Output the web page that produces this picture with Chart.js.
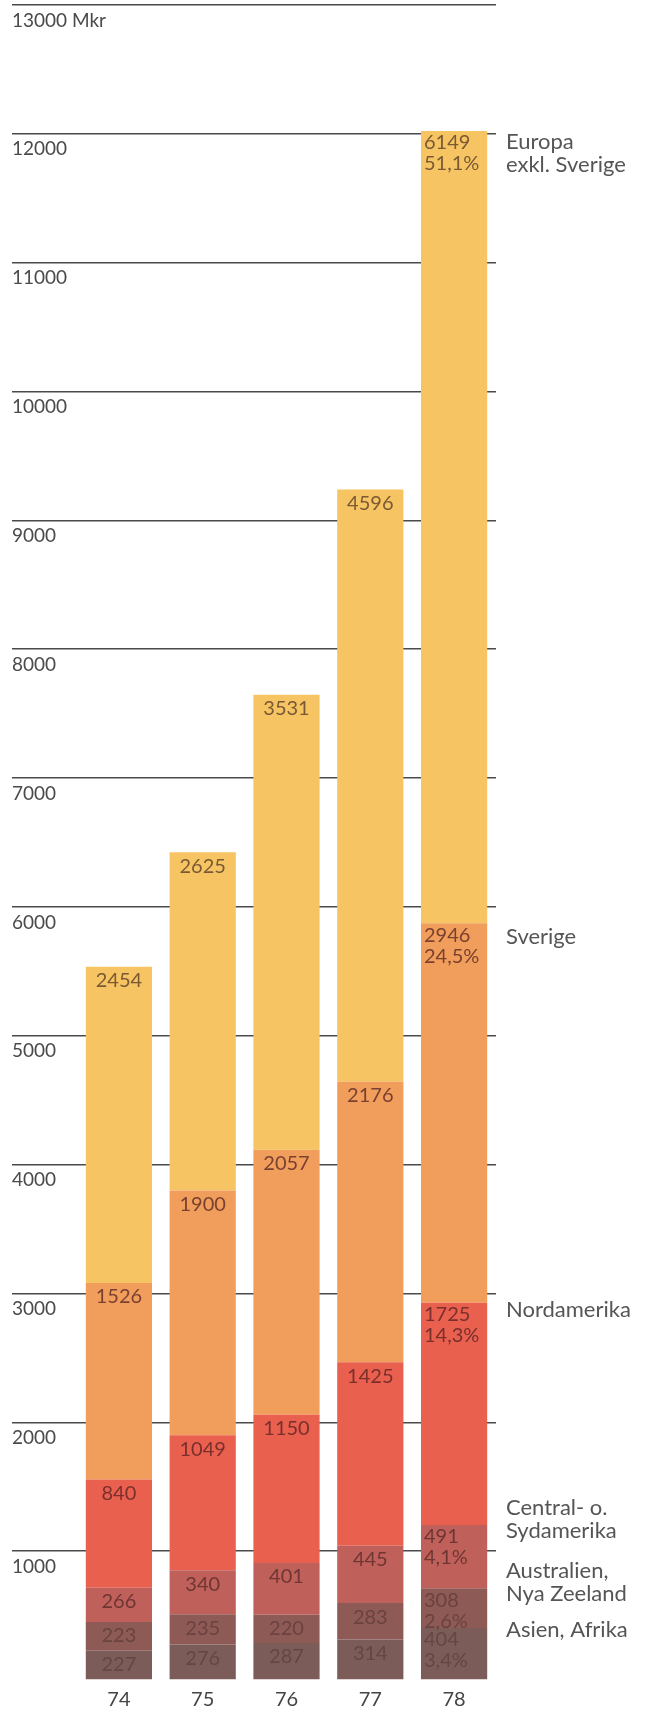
<!DOCTYPE html>
<html lang="sv">
<head>
<meta charset="utf-8">
<title>Fakturering per marknad 1974–1978</title>
<script src="https://cdn.jsdelivr.net/npm/chart.js@4.4.1/dist/chart.umd.min.js"></script>
<style>
  html, body { margin: 0; padding: 0; background: #fff; }
  #wrap { width: 654px; height: 1714px; position: relative; }
</style>
</head>
<body>
<div id="wrap"><canvas id="graf"></canvas></div>
<script>
// Värden i Mkr, staplade nedifrån och upp
const ar = ['74', '75', '76', '77', '78'];
const asienAfrika = [227, 276, 287, 314, 404];
const australien  = [223, 235, 220, 283, 308];
const sydamerika  = [266, 340, 401, 445, 491];
const nordamerika = [840, 1049, 1150, 1425, 1725];
const sverige     = [1526, 1900, 2057, 2176, 2946];
const europa      = [2454, 2625, 3531, 4596, 6149];
const regioner = [
  ['Asien, Afrika'],
  ['Australien,', 'Nya Zeeland'],
  ['Central- o.', 'Sydamerika'],
  ['Nordamerika'],
  ['Sverige'],
  ['Europa', 'exkl. Sverige']
];
const yMax = 13000;
const ySteg = 1000;
const enhet = 'Mkr';

// utseende
const stapelFarger = ['#7c5c59', '#8e5a55', '#c0605a', '#e9604f', '#f19e5c', '#f6c462'];
const textFarger   = ['#654643', '#6a4240', '#6e3633', '#7a2f2c', '#7a4030', '#7a5a35'];
const regionNudge  = [2, -17, -17, 7, 14, 11]; // px från segmentets överkant till etikettens första rad
const typsnitt = 'Lato, "Open Sans", sans-serif';
const yFont = { family: typsnitt, size: 19 };

const serier = [asienAfrika, australien, sydamerika, nordamerika, sverige, europa];

function procent(v, j) {
  const total = serier.reduce((s, arr) => s + arr[j], 0);
  return (v / total * 100).toFixed(1).replace('.', ',') + '%';
}

const etiketter = {
  id: 'etiketter',
  afterDatasetsDraw(chart) {
    const ctx = chart.ctx;
    ctx.save();
    ctx.textBaseline = 'middle';
    ctx.font = '20px ' + typsnitt;
    chart.data.datasets.forEach((ds, i) => {
      const meta = chart.getDatasetMeta(i);
      meta.data.forEach((bar, j) => {
        const p = bar.getProps(['x', 'y', 'width'], true);
        ctx.fillStyle = textFarger[i];
        if (j === ds.data.length - 1) {
          // sista året: värde + andel, vänsterställt
          ctx.textAlign = 'left';
          const x = p.x - p.width / 2 + 3;
          ctx.fillText(String(ds.data[j]), x, p.y + 12);
          ctx.fillText(procent(ds.data[j], j), x, p.y + 33);
        } else {
          ctx.textAlign = 'center';
          ctx.fillText(String(ds.data[j]), p.x, p.y + 14);
        }
      });
    });
    ctx.restore();
  },
  afterDraw(chart) {
    const ctx = chart.ctx;
    const y = chart.scales.y;
    ctx.save();
    // enheten efter översta skalsteget (skalans etiketter klipps vid axelns kant)
    ctx.font = yFont.size + 'px ' + typsnitt;
    ctx.fillStyle = '#4a4a4a';
    ctx.textBaseline = 'top';
    ctx.textAlign = 'left';
    const w = ctx.measureText(String(yMax)).width;
    ctx.fillText(' ' + enhet, y.left + w, y.getPixelForValue(yMax) + 6);

    ctx.textBaseline = 'middle';
    ctx.font = '22px ' + typsnitt;
    ctx.fillStyle = '#555';
    const x0 = chart.chartArea.right + 10;
    chart.data.datasets.forEach((ds, i) => {
      const meta = chart.getDatasetMeta(i);
      const sista = meta.data[meta.data.length - 1].getProps(['y'], true);
      regioner[i].forEach((rad, k) => {
        ctx.fillText(rad, x0, sista.y + regionNudge[i] + k * 23);
      });
    });
    ctx.restore();
  }
};

const gridFarg = c => (c.tick && c.tick.value === 0) ? 'rgba(0,0,0,0)' : '#4a4a4a';

new Chart(document.getElementById('graf'), {
  type: 'bar',
  data: {
    labels: ar,
    datasets: serier.map((d, i) => ({
      label: regioner[i].join(' '),
      data: d,
      backgroundColor: stapelFarger[i],
      borderWidth: 0,
      barPercentage: 0.79,
      categoryPercentage: 1
    }))
  },
  options: {
    responsive: true,
    maintainAspectRatio: false,
    animation: false,
    layout: { padding: { left: 12, right: 158, top: 5, bottom: 0 } },
    plugins: {
      legend: { display: false },
      tooltip: { enabled: false }
    },
    scales: {
      x: {
        stacked: true,
        grid: { display: false, drawTicks: false },
        border: { display: false },
        ticks: { color: '#444', font: { family: typsnitt, size: 20 }, padding: 8 },
        afterFit(s) { s.height = 34; }
      },
      y: {
        stacked: true,
        min: 0,
        max: yMax,
        z: 1,
        border: { display: false },
        grid: { color: gridFarg, tickColor: gridFarg, lineWidth: 1.5, drawTicks: true, tickLength: 65 },
        ticks: {
          stepSize: ySteg,
          align: 'start',
          crossAlign: 'far',
          labelOffset: 6,
          padding: 0,
          color: '#4a4a4a',
          font: yFont,
          callback: v => v === 0 ? '' : String(v)
        },
        afterFit(s) { s.width = 65; }
      }
    }
  },
  plugins: [etiketter]
});
</script>
</body>
</html>
